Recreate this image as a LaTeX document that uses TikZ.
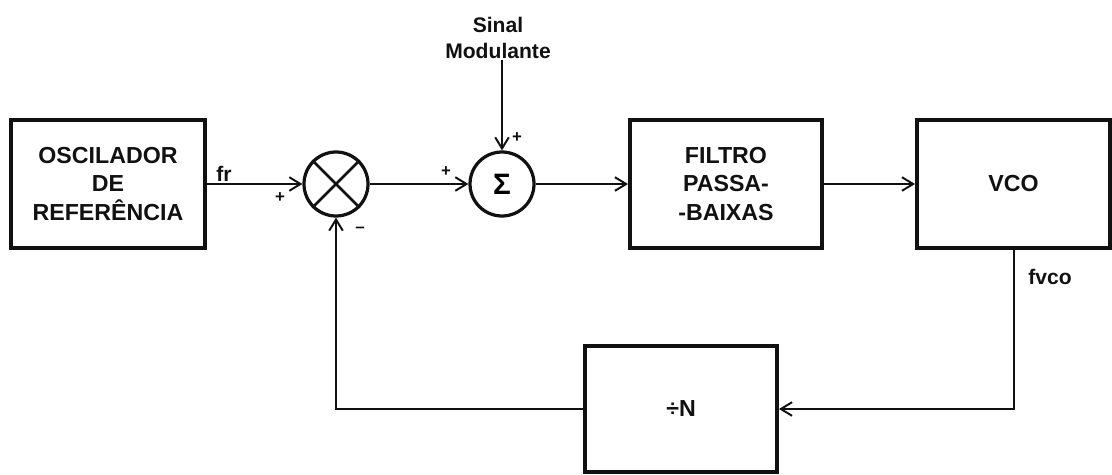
\documentclass[tikz,border=0pt]{standalone}
\usepackage{fontspec}
\setmainfont{Liberation Sans}
\usetikzlibrary{arrows.meta}
\definecolor{ink}{HTML}{111111}
\tikzset{
  block/.style={rectangle, draw=ink, line width=2.8pt, align=center, minimum width=4.8cm, minimum height=3.2cm, font=\fontsize{16.5}{20}\selectfont\bfseries, text=ink},
  junction/.style={circle, draw=ink, line width=2.3pt, minimum size=1.6cm, inner sep=0pt},
  lbl/.style={font=\fontsize{15}{18}\selectfont\bfseries, text=ink, align=center, inner sep=1pt},
  sgn/.style={font=\fontsize{12}{13}\selectfont\bfseries, text=ink, inner sep=0pt},
  flow/.style={-{Straight Barb[length=2.8mm, width=3.4mm, line width=1.4pt]}, line width=1.4pt, draw=ink},
  link/.style={line width=1.4pt, draw=ink},
}
\begin{document}
\begin{tikzpicture}
\useasboundingbox (0,0) rectangle (27.8,11.85);

% ===== Forward path =====
\node[block, minimum width=4.85cm] (osc) at (2.7,7.25) {OSCILADOR\\DE\\REFERÊNCIA};
\node[junction] (mult) at (8.4,7.25) {};
\draw[link, line width=1.8pt] (mult.north west) -- (mult.south east);
\draw[link, line width=1.8pt] (mult.north east) -- (mult.south west);
\node[junction, font=\fontsize{21}{22}\selectfont\bfseries] (sum) at (12.55,7.25) {Σ};
\node[block] (lpf) at (18.15,7.25) {FILTRO\\PASSA-\\-BAIXAS};
\node[block, minimum width=4.83cm] (vco) at (25.34,7.25) {VCO};

% ===== Feedback path =====
\node[block, minimum height=3.15cm] (div) at (17.025,1.625) {÷N};

% ===== Labels =====
\node[lbl] (mod) at (12.45,10.9) {Sinal\\Modulante};
\node[lbl] (fr) at (5.6,7.5) {fr};
\node[lbl] (fvco) at (26.25,4.93) {fvco};
\node[sgn] (pa) at (7.0,6.9) {+};
\node[sgn] (mb) at (9.0,6.1) {--};
\node[sgn] (pc) at (11.15,7.55) {+};
\node[sgn] (pd) at (12.925,8.4) {+};

% ===== Flow =====
\draw[flow] (osc) -- (mult);
\draw[flow] (mult) -- (sum);
\draw[flow] (sum |- mod.south) -- (sum);
\draw[flow] (sum) -- (lpf);
\draw[flow] (lpf) -- (vco);
\draw[flow] (vco.south) |- (div.east);
\draw[flow] (div.west) -| (mult.south);

\end{tikzpicture}
\end{document}
